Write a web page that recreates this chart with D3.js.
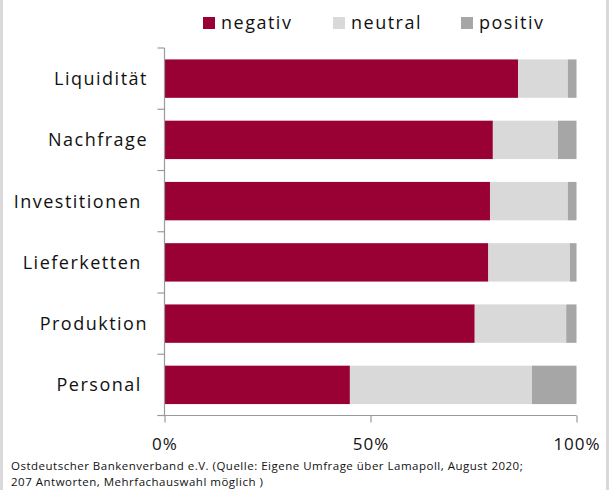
<!DOCTYPE html>
<html>
<head>
<meta charset="utf-8">
<script src="https://cdn.jsdelivr.net/npm/d3@7"></script>
<style>
  html, body { margin: 0; padding: 0; background: #fff; }
  svg { display: block; }
  text { font-family: "Open Sans", "Noto Sans", sans-serif; fill: #111; white-space: pre; }
</style>
</head>
<body>
<svg id="chart" width="609" height="490"></svg>
<script>
// Survey answers per area, share of responses in percent
const categories = ["Liquidität", "Nachfrage", "Investitionen ", "Lieferketten ", "Produktion", "Personal "];
const negativ = [85.8, 79.7, 79.0, 78.6, 75.3, 45.0];
const neutral = [12.1, 15.8, 18.9, 19.8, 22.2, 44.2];
const positiv = [2.1, 4.5, 2.1, 1.6, 2.5, 10.8];
const seriesNames = ["negativ", "neutral", "positiv"];
const xTicks = [0, 50, 100];
const footerLines = [
  "Ostdeutscher Bankenverband e.V. (Quelle: Eigene Umfrage über Lamapoll, August 2020;",
  "207 Antworten, Mehrfachauswahl möglich )"
];

const colors = { negativ: "#990033", neutral: "#d9d9d9", positiv: "#a6a6a6" };
const axisColor = "#9a9a9a";

const svg = d3.select("#chart");
const W = 609, H = 490;

// thin grey frame strips on the sides
svg.append("rect").attr("x", 0).attr("y", 0).attr("width", 3).attr("height", H).attr("fill", "#d9d9d9");
svg.append("rect").attr("x", W - 3).attr("y", 0).attr("width", 3).attr("height", H).attr("fill", "#d9d9d9");

const plot = { left: 164.5, right: 576.5, top: 48, bottom: 415.5 };

const x = d3.scaleLinear().domain([0, 100]).range([plot.left, plot.right]);
const y = d3.scaleBand().domain(categories).range([plot.top, plot.bottom])
  .paddingInner(0.373).paddingOuter(0.1865);

const rows = categories.map((c, i) => ({ cat: c, negativ: negativ[i], neutral: neutral[i], positiv: positiv[i] }));
const stacked = d3.stack().keys(seriesNames)(rows);

// stacked bars
svg.append("g").selectAll("g").data(stacked).join("g")
  .attr("fill", s => colors[s.key])
  .selectAll("rect").data(s => s).join("rect")
    .attr("x", d => x(d[0]))
    .attr("width", d => x(d[1]) - x(d[0]))
    .attr("y", d => y(d.data.cat))
    .attr("height", y.bandwidth());

// category axis: line plus ticks at band boundaries
const gap = (y.step() - y.bandwidth()) / 2;
const bounds = categories.map(c => y(c) - gap).concat([plot.bottom]);
const yAxis = svg.append("g");
yAxis.append("line")
  .attr("x1", plot.left).attr("x2", plot.left)
  .attr("y1", plot.top).attr("y2", plot.bottom)
  .attr("stroke", axisColor).attr("stroke-width", 1.2);
yAxis.selectAll(".tk").data(bounds).join("line")
  .attr("x1", plot.left - 7).attr("x2", plot.left)
  .attr("y1", d => d).attr("y2", d => d)
  .attr("stroke", axisColor).attr("stroke-width", 1.2);
yAxis.selectAll(".lbl").data(categories).join("text")
  .attr("x", 148)
  .attr("y", c => y(c) + y.bandwidth() / 2 + 6.5)
  .attr("text-anchor", "end")
  .attr("font-size", 18)
  .attr("letter-spacing", 1.5)
  .text(c => c);

// value axis
const xAxis = svg.append("g").attr("transform", `translate(0,${plot.bottom})`)
  .call(d3.axisBottom(x).tickValues(xTicks).tickFormat(d => d + "%").tickSizeOuter(0).tickSize(7).tickPadding(15));
xAxis.select(".domain").remove();
xAxis.append("line")
  .attr("x1", plot.left - 7).attr("x2", plot.right)
  .attr("stroke", axisColor).attr("stroke-width", 1.2);
xAxis.selectAll(".tick line").attr("stroke", axisColor).attr("stroke-width", 1.2);
xAxis.selectAll(".tick text")
  .attr("font-family", "'Open Sans', 'Noto Sans', sans-serif")
  .attr("font-size", 17)
  .attr("letter-spacing", 1)
  .attr("fill", "#111");

// legend
const legendX = [203, 333, 461];
const legend = svg.append("g");
seriesNames.forEach((name, i) => {
  legend.append("rect").attr("x", legendX[i]).attr("y", 17).attr("width", 12).attr("height", 12)
    .attr("fill", colors[name]);
  legend.append("text").attr("x", legendX[i] + 18).attr("y", 29)
    .attr("font-size", 18).attr("letter-spacing", 1.5).text(name);
});

// source note, one text block wrapped over two lines
const note = svg.append("text")
  .attr("x", 11)
  .attr("y", 470)
  .attr("font-size", 11.5)
  .attr("letter-spacing", 0.5)
  .attr("fill", "#111");
note.selectAll("tspan").data(footerLines).join("tspan")
  .attr("x", 11)
  .attr("dy", (d, i) => i === 0 ? 0 : 15.8)
  .text(d => d);
</script>
</body>
</html>
